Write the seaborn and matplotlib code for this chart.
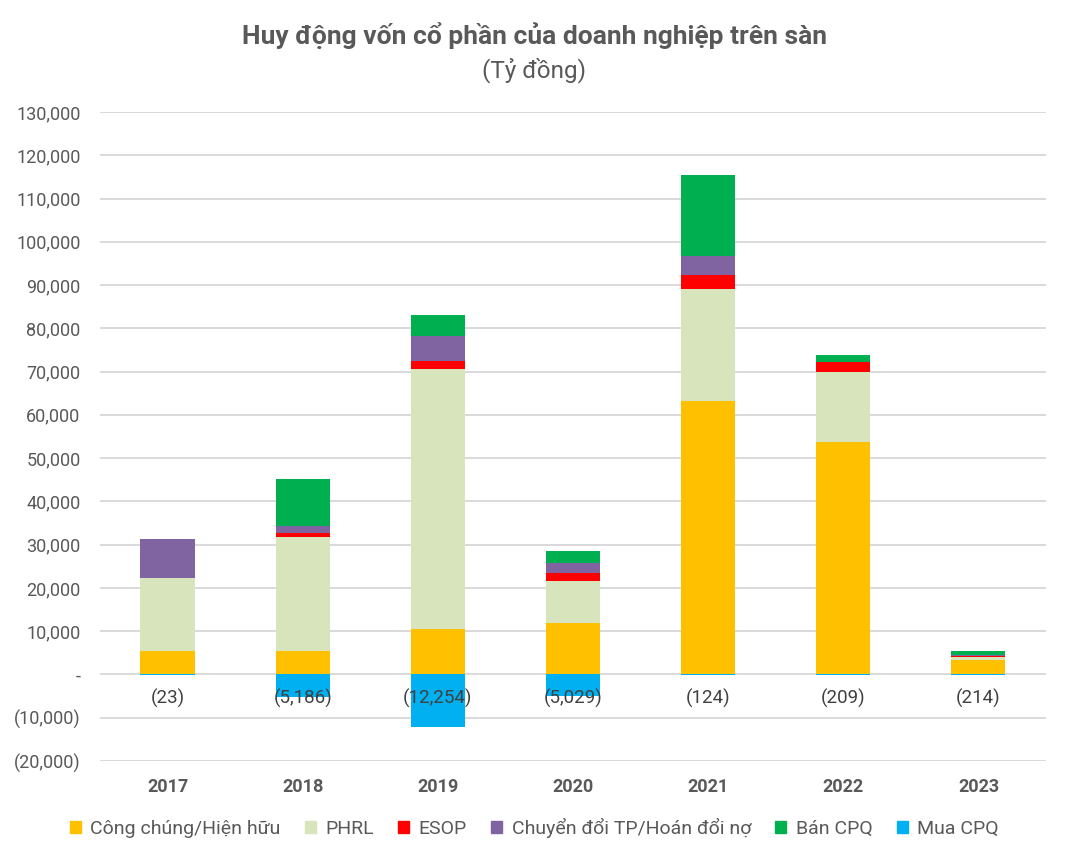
import matplotlib
matplotlib.use("Agg")
import matplotlib.pyplot as plt
from matplotlib.patches import Patch
from matplotlib.ticker import FuncFormatter
import seaborn as sns

years = ["2017", "2018", "2019", "2020", "2021", "2022", "2023"]
cong_chung = [5500, 5500, 10400, 11900, 63200, 53700, 3400]
phrl = [16900, 26300, 60200, 9600, 25900, 16200, 600]
esop = [0, 1000, 1900, 1900, 3200, 2300, 300]
chuyen_doi = [8800, 1400, 5800, 2400, 4400, 0, 300]
ban_cpq = [0, 11000, 4700, 2700, 18700, 1600, 900]
mua_cpq = [-23, -5186, -12254, -5029, -124, -209, -214]

series = [
    ("Công chúng/Hiện hữu", cong_chung, "#FFC000"),
    ("PHRL", phrl, "#D8E4BC"),
    ("ESOP", esop, "#FF0000"),
    ("Chuyển đổi TP/Hoán đổi nợ", chuyen_doi, "#8064A2"),
    ("Bán CPQ", ban_cpq, "#00B050"),
]

sns.set_theme(style="white")
plt.rcParams["font.family"] = ["Roboto", "DejaVu Sans"]
text_col = "#595959"

fig = plt.figure(figsize=(10.69, 8.6), dpi=100)
ax = fig.add_axes([0.0935, 0.1151, 0.885, 0.7547])

bottom = [0] * len(years)
for name, vals, col in series:
    sns.barplot(x=years, y=vals, bottom=bottom, color=col, width=0.4,
                saturation=1, linewidth=0, ax=ax, zorder=3)
    bottom = [b + v for b, v in zip(bottom, vals)]

sns.barplot(x=years, y=mua_cpq, color="#00B0F0", width=0.4,
            saturation=1, linewidth=0, ax=ax, zorder=3)

for i, v in enumerate(mua_cpq):
    ax.annotate(f"({abs(v):,})", xy=(i, 0), xytext=(0, -17), textcoords="offset points",
                ha="center", va="center", fontsize=13.5, color="#404040", zorder=5)

ax.set_ylim(-20000, 130000)
ax.set_xlim(-0.5, 6.5)
ax.set_yticks(range(-20000, 130001, 10000))

def fmt(v, pos):
    if v == 0:
        return "-"
    if v < 0:
        return f"({abs(v):,.0f})"
    return f"{v:,.0f}"

ax.yaxis.set_major_formatter(FuncFormatter(fmt))
ax.grid(axis="y", color="#D9D9D9", linewidth=1.4, zorder=0)
ax.grid(axis="x", visible=False)
for s in ax.spines.values():
    s.set_visible(False)
ax.tick_params(axis="y", labelsize=13, labelcolor=text_col, length=0, pad=14)
ax.tick_params(axis="x", labelsize=13, labelcolor=text_col, length=0, pad=12)
for lbl in ax.get_xticklabels():
    lbl.set_fontweight("bold")
ax.set_xlabel("")
ax.set_ylabel("")

fig.text(0.5, 0.959, "Huy động vốn cổ phần của doanh nghiệp trên sàn", ha="center", va="center",
         fontsize=19, fontweight="bold", color=text_col)
fig.text(0.5, 0.918, "(Tỷ đồng)", ha="center", va="center", fontsize=17.5, color=text_col)

handles = [Patch(color=c, label=n) for n, _, c in series] + [Patch(color="#00B0F0", label="Mua CPQ")]
fig.legend(handles=handles, loc="center", bbox_to_anchor=(0.5, 0.037), ncol=6, frameon=False,
           fontsize=14, labelcolor=text_col, handlelength=0.55, handleheight=0.55,
           handletextpad=0.5, columnspacing=1.25)

fig.savefig("out.png", dpi=100)
